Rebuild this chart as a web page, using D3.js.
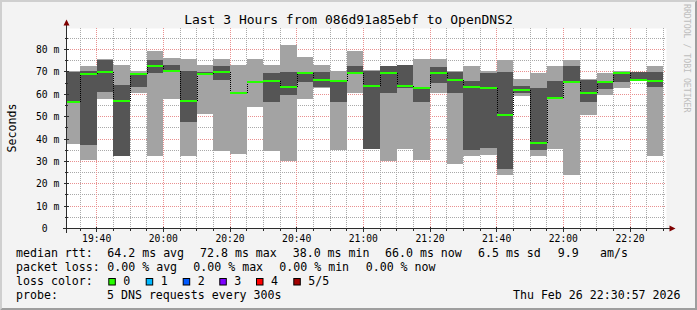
<!DOCTYPE html>
<html><head><meta charset="utf-8">
<script src="https://cdn.jsdelivr.net/npm/d3@7"></script>
<style>
html,body{margin:0;padding:0;background:#f3f3f3;}
svg{display:block;font-family:"DejaVu Sans Mono",monospace;}
</style>
</head><body>
<svg id="c" width="697" height="310"></svg>
<script>
// ---- data ----
const stepEnds = ["19:35","19:40","19:45","19:50","19:55","20:00","20:05","20:10","20:15","20:20","20:25","20:30",
  "20:35","20:40","20:45","20:50","20:55","21:00","21:05","21:10","21:15","21:20","21:25","21:30",
  "21:35","21:40","21:45","21:50","21:55","22:00","22:05","22:10","22:15","22:20","22:25","22:30"];
const pingMax   = [70.2,72.6,75.8,73.1,70.5,79.3,76.1,75.6,73.1,75.6,73.0,75.6,
                   73.0,81.9,76.6,73.0,70.3,79.3,70.8,72.6,73.0,75.6,75.6,70.4,
                   72.5,70.2,75.2,66.7,69.5,72.5,75.5,66.7,69.5,70.2,70.1,72.5];
const pingHi    = [70.0,70.3,75.4,64.1,69.4,75.2,72.9,70.3,69.9,72.5,61.0,65.8,
                   69.4,70.0,69.9,70.0,66.0,72.6,70.4,72.5,72.9,63.2,72.1,69.9,
                   65.9,69.5,70.0,63.5,62.7,65.9,72.5,66.4,66.0,70.0,70.0,70.0];
const medianRtt = [56.7,69.0,69.9,57.0,69.0,72.7,70.4,57.0,69.0,69.9,60.6,65.4,
                   66.0,63.3,69.5,66.3,66.0,69.5,63.7,69.5,63.7,62.8,69.5,66.3,
                   63.3,62.7,50.6,61.8,38.0,58.2,65.4,60.6,65.4,69.5,66.3,66.0];
const pingLo    = [56.4,37.3,61.0,32.5,63.2,69.6,69.9,47.6,68.4,66.3,60.3,65.1,
                   56.6,59.7,65.5,63.2,56.6,69.1,35.6,60.5,62.7,56.6,65.2,60.6,
                   35.1,35.8,26.6,60.4,35.1,58.1,64.9,56.6,62.3,65.7,66.1,63.2];
const pingMin   = [37.6,30.6,57.9,32.3,60.6,32.4,57.9,32.4,51.1,34.5,33.2,54.3,
                   34.7,30.2,57.8,62.8,35.0,60.6,35.4,30.2,35.6,30.5,60.6,29.0,
                   32.4,32.8,23.9,59.4,32.4,35.5,23.9,50.6,59.8,62.8,66.0,32.4];
const xTickLabels = ["19:40","20:00","20:20","20:40","21:00","21:20","21:40","22:00","22:20"];
const yTickValues = [0,10,20,30,40,50,60,70,80];
const yTickLabels = ["0","10 m","20 m","30 m","40 m","50 m","60 m","70 m","80 m"];
const lossLabels = ["0","1","2","3","4","5/5"];
const lossColors = ["#26ff00","#00b8ff","#0059ff","#7e00ff","#ff0000","#a10000"];
const titleText = "Last 3 Hours from 086d91a85ebf to OpenDNS2";
const statsRtt = ["median rtt:","64.2 ms avg","72.8 ms max","38.0 ms min","66.0 ms now","6.5 ms sd","9.9","am/s"];
const statsLoss = ["packet loss:","0.00 % avg","0.00 % max","0.00 % min","0.00 % now"];
const probeText = ["probe:","5 DNS requests every 300s"];
const stampText = "Thu Feb 26 22:30:57 2026";

// ---- layout ----
const W = 697, H = 310;
const X0 = 66.5, X1 = 666.5, Y0 = 228.5, Y1 = 28.5;
const tAt = (h,m,s=0) => new Date(2026,1,26,h,m,s);
const parseT = s => { const [h,m] = s.split(":").map(Number); return tAt(h,m); };
const tStart = tAt(19,30,57), tEnd = tAt(22,30,57);

const x = d3.scaleTime().domain([tStart, tEnd]).range([X0, X1]);
const y = d3.scaleLinear().domain([0, 89.39]).range([Y0, Y1]);

const svg = d3.select("#c");
const defs = svg.append("defs");
function dotPattern(id, col, horiz){
  const p = defs.append("pattern").attr("id",id).attr("patternUnits","userSpaceOnUse")
    .attr("x",0).attr("y",0).attr("width",horiz?2:1).attr("height",horiz?1:2);
  p.append("rect").attr("width",1).attr("height",1).attr("fill",col);
}
dotPattern("minH","#a9a9a9",true);
dotPattern("minV","#a9a9a9",false);
dotPattern("majH","#e99090",true);
dotPattern("majV","#e99090",false);

svg.append("rect").attr("width",W).attr("height",H).attr("fill","#f3f3f3");
// 3D frame
svg.append("path").attr("d",`M0,0H${W}L${W-2},2H2V${H-2}L0,${H}Z`).attr("fill","#cfcfcf");
svg.append("path").attr("d",`M${W},${H}H0L2,${H-2}H${W-2}V2L${W},0Z`).attr("fill","#9e9e9e");

// canvas
svg.append("rect").attr("x",X0).attr("y",Y1).attr("width",X1-X0).attr("height",Y0-Y1).attr("fill","#ffffff");

const px = v => Math.floor(v) + 0.5;
const grid = svg.append("g").attr("shape-rendering","crispEdges");
const minorT = d3.timeMinute.every(5).range(tStart, tEnd).filter(d => d.getMinutes() % 20 !== 0);
const minorY = d3.range(5, 89, 10);
const majorT = xTickLabels.map(parseT);
function vlines(data, pat){
  grid.append("g").selectAll("rect").data(data).join("rect")
    .attr("x",d=>Math.floor(x(d))).attr("width",1)
    .attr("y",Math.floor(Y1)).attr("height",Math.ceil(Y0)-Math.floor(Y1))
    .attr("fill",`url(#${pat})`);
}
function hlines(data, pat){
  grid.append("g").selectAll("rect").data(data).join("rect")
    .attr("x",Math.ceil(X0)).attr("width",Math.floor(X1)-Math.ceil(X0))
    .attr("y",d=>Math.floor(y(d))).attr("height",1)
    .attr("fill",`url(#${pat})`);
}
vlines(minorT, "minV");
hlines(minorY, "minH");
vlines(majorT, "majV");
hlines(yTickValues.slice(1), "majH");

// smoke
svg.append("clipPath").attr("id","pc").append("rect")
  .attr("x",X0).attr("y",Y1-10).attr("width",X1-X0).attr("height",Y0-Y1+10);
const rows = stepEnds.map((s,i)=>({end:parseT(s), start:d3.timeMinute.offset(parseT(s),-5),
  mx:pingMax[i], hi:pingHi[i], md:medianRtt[i], lo:pingLo[i], mn:pingMin[i]}));
const smoke = svg.append("g").attr("clip-path","url(#pc)").attr("shape-rendering","crispEdges");
const bx = d => Math.round(x(d.start)), bw = d => Math.round(x(d.end)) - Math.round(x(d.start));
smoke.append("g").selectAll("rect").data(rows).join("rect")
  .attr("x",bx).attr("width",bw)
  .attr("y",d=>Math.round(y(d.mx))).attr("height",d=>Math.round(y(d.mn))-Math.round(y(d.mx)))
  .attr("fill","#a3a3a3");
smoke.append("g").selectAll("rect").data(rows).join("rect")
  .attr("x",bx).attr("width",bw)
  .attr("y",d=>Math.round(y(d.hi))).attr("height",d=>Math.max(1,Math.round(y(d.lo))-Math.round(y(d.hi))))
  .attr("fill","#555555");
const med = svg.append("g").attr("clip-path","url(#pc)");
med.append("g").selectAll("line").data(rows.slice(1)).join("line")
  .attr("x1",d=>Math.round(x(d.start))+0.5).attr("x2",d=>Math.round(x(d.start))+0.5)
  .attr("y1",(d,i)=>Math.round(y(rows[i].md))).attr("y2",d=>Math.round(y(d.md)))
  .attr("stroke","#000").attr("stroke-dasharray","1 1");
med.append("g").selectAll("line").data(rows).join("line")
  .attr("x1",d=>Math.round(x(d.start))).attr("x2",d=>Math.round(x(d.end)))
  .attr("y1",d=>Math.round(y(d.md))).attr("y2",d=>Math.round(y(d.md)))
  .attr("stroke",lossColors[0]).attr("stroke-width",2);

// axes
const ax = svg.append("g").attr("shape-rendering","crispEdges");
const axisC = "#2c2c2c";
ax.append("line").attr("x1",X0-4).attr("x2",X1+4).attr("y1",Y0).attr("y2",Y0).attr("stroke",axisC);
ax.append("line").attr("x1",X0).attr("x2",X0).attr("y1",Y0+4).attr("y2",Y1-4).attr("stroke",axisC);
ax.append("g").selectAll("line").data(majorT).join("line")
  .attr("x1",d=>px(x(d))).attr("x2",d=>px(x(d))).attr("y1",Y0-2).attr("y2",Y0+3).attr("stroke",axisC);
ax.append("g").selectAll("line").data(minorT).join("line")
  .attr("x1",d=>px(x(d))).attr("x2",d=>px(x(d))).attr("y1",Y0-1).attr("y2",Y0+2).attr("stroke",axisC);
ax.append("g").selectAll("line").data(yTickValues).join("line")
  .attr("x1",X0-3).attr("x2",X0+2).attr("y1",d=>px(y(d))).attr("y2",d=>px(y(d))).attr("stroke",axisC);
ax.append("g").selectAll("line").data(minorY).join("line")
  .attr("x1",X0-2).attr("x2",X0+1).attr("y1",d=>px(y(d))).attr("y2",d=>px(y(d))).attr("stroke",axisC);
// arrows
svg.append("path").attr("d",`M${X0-3},${Y1-3}L${X0+3},${Y1-3}L${X0},${Y1-9}Z`).attr("fill","#7f0000");
svg.append("path").attr("d",`M${X1+3},${Y0-3}L${X1+3},${Y0+3}L${X1+9},${Y0}Z`).attr("fill","#7f0000");

// tick labels
const tf = "9.7px";
svg.append("g").selectAll("text").data(yTickValues).join("text")
  .attr("x",(d,i)=> i===0 ? 59.3-2*5.84 : 59.3).attr("y",d=>y(d)+3.6)
  .attr("text-anchor","end").attr("font-size",tf).attr("fill","#000")
  .text((d,i)=>yTickLabels[i]);
svg.append("g").selectAll("text").data(majorT).join("text")
  .attr("x",d=>x(d)).attr("y",242).attr("text-anchor","middle")
  .attr("font-size",tf).attr("fill","#000").text((d,i)=>xTickLabels[i]);

// title
svg.append("text").attr("x",348.5).attr("y",24).attr("text-anchor","middle")
  .attr("font-size","13px").attr("fill","#000").text(titleText);
// y label
svg.append("text").attr("transform","translate(15.5,128) rotate(-90)").attr("text-anchor","middle")
  .attr("font-size","11.6px").attr("fill","#000").text("Seconds");
// watermark
svg.append("text").attr("transform","translate(684,4) rotate(90)")
  .attr("font-size","8.2px").attr("fill","#bdbdbd").text("RRDTOOL / TOBI OETIKER");

// legend
const lf = "11.6px";
const L = svg.append("g").attr("font-size",lf).attr("fill","#000").style("white-space","pre");
const rttX = [16,107.3,200,292.7,385,478,557.8,600];
statsRtt.forEach((s,i)=>L.append("text").attr("x",rttX[i]).attr("y",257).text(s));
const lossX = [16,107.3,193.3,279.3,365.7];
statsLoss.forEach((s,i)=>L.append("text").attr("x",lossX[i]).attr("y",271).text(s));
L.append("text").attr("x",16).attr("y",285).text("loss color:");
const boxX = [108.3,145.7,182.7,219.3,256,293.3];
lossLabels.forEach((s,i)=>{
  L.append("rect").attr("x",boxX[i]+0.5).attr("y",278.5).attr("width",6.5).attr("height",6.5)
    .attr("fill",lossColors[i]).attr("stroke","#000").attr("stroke-width",1);
  L.append("text").attr("x",boxX[i]+15).attr("y",285).text(s);
});
L.append("text").attr("x",16).attr("y",299).text(probeText[0]);
L.append("text").attr("x",107).attr("y",299).text(probeText[1]);
L.append("text").attr("x",680.5).attr("y",299).attr("text-anchor","end").text(stampText);
</script>
</body></html>
